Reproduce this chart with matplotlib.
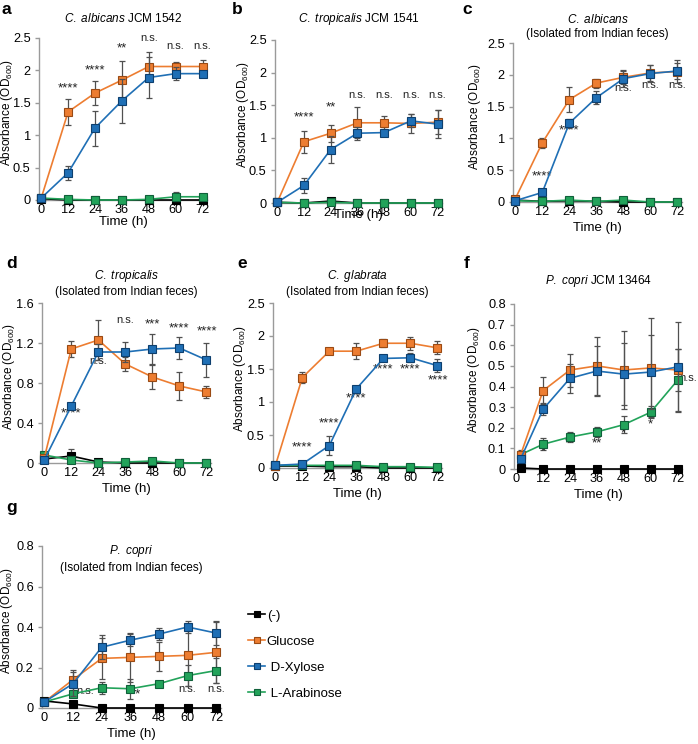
import numpy as np
import matplotlib
matplotlib.use("Agg")
import matplotlib.pyplot as plt
from matplotlib.ticker import FuncFormatter
from matplotlib.transforms import blended_transform_factory

plt.rcParams['font.family'] = ['Liberation Sans', 'DejaVu Sans']
plt.rcParams['mathtext.fontset'] = 'custom'
plt.rcParams['mathtext.rm'] = 'Liberation Sans'
plt.rcParams['mathtext.it'] = 'Liberation Sans:italic'
plt.rcParams['mathtext.default'] = 'regular'

# ---- data ----
hours = [0, 12, 24, 36, 48, 60, 72]
hours_f = [2, 12, 24, 36, 48, 60, 72]
series_names = ['(-)', 'Glucose', ' D-Xylose', ' L-Arabinose']

# panel a
a_neg = [0.02, 0.0, 0.0, 0.0, 0.0, 0.0, 0.0]
a_glc = [0.03, 1.36, 1.65, 1.85, 2.06, 2.06, 2.06]
a_glc_err = [0.01, 0.2, 0.18, 0.3, 0.22, 0.07, 0.1]
a_xyl = [0.03, 0.42, 1.11, 1.53, 1.89, 1.95, 1.95]
a_xyl_err = [0.01, 0.11, 0.27, 0.34, 0.32, 0.1, 0.03]
a_ara = [0.03, 0.01, 0.0, 0.0, 0.01, 0.05, 0.05]
a_ara_err = [0.0, 0.0, 0.0, 0.0, 0.0, 0.07, 0.0]
a_sig = ['', '****', '****', '**', 'n.s.', 'n.s.', 'n.s.']
a_sig_y = [0, 1.63, 1.9, 2.25, 2.42, 2.3, 2.3]

# panel b
b_neg = [0.01, 0.0, 0.03, 0.0, 0.0, 0.0, 0.0]
b_glc = [0.01, 0.94, 1.07, 1.23, 1.23, 1.22, 1.24]
b_glc_err = [0.0, 0.17, 0.13, 0.24, 0.1, 0.15, 0.18]
b_xyl = [0.01, 0.27, 0.82, 1.07, 1.08, 1.26, 1.21]
b_xyl_err = [0.0, 0.12, 0.2, 0.1, 0.02, 0.1, 0.22]
b_ara = [0.01, 0.0, 0.01, 0.0, 0.0, 0.0, 0.0]
b_ara_err = [0.0] * 7
b_sig = ['', '****', '**', 'n.s.', 'n.s.', 'n.s.', 'n.s.']
b_sig_y = [0, 1.22, 1.38, 1.58, 1.58, 1.58, 1.58]

# panel c
c_neg = [0.03, 0.01, 0.02, 0.01, 0.0, 0.0, 0.0]
c_glc = [0.05, 0.93, 1.61, 1.87, 1.96, 2.03, 2.05]
c_glc_err = [0.0, 0.08, 0.2, 0.07, 0.1, 0.12, 0.18]
c_xyl = [0.02, 0.15, 1.24, 1.64, 1.94, 2.02, 2.06]
c_xyl_err = [0.0, 0.02, 0.07, 0.1, 0.13, 0.14, 0.12]
c_ara = [0.02, 0.01, 0.03, 0.01, 0.03, 0.0, 0.0]
c_ara_err = [0.0] * 7
c_sig = ['', '****', '****', '*', 'n.s.', 'n.s.', 'n.s.']
c_sig_y = [0, 0.3, 1.03, 1.42, 1.72, 1.76, 1.76]

# panel d
d_neg = [0.04, 0.07, 0.01, 0.0, 0.0, 0.0, 0.0]
d_neg_err = [0.0, 0.07, 0.0, 0.0, 0.0, 0.0, 0.0]
d_glc = [0.05, 1.14, 1.23, 0.99, 0.86, 0.77, 0.71]
d_glc_err = [0.0, 0.08, 0.2, 0.07, 0.12, 0.14, 0.06]
d_xyl = [0.03, 0.57, 1.11, 1.11, 1.14, 1.15, 1.03]
d_xyl_err = [0.0, 0.02, 0.08, 0.1, 0.15, 0.11, 0.17]
d_ara = [0.08, 0.03, 0.0, 0.01, 0.02, 0.0, 0.0]
d_ara_err = [0.0] * 7
d_sig = ['', '****', 'n.s.', 'n.s.', '***', '****', '****']
d_sig_y = [0, 0.44, 0.97, 1.38, 1.33, 1.29, 1.26]

# panel e
e_neg = [0.03, 0.03, 0.02, 0.02, 0.0, 0.0, 0.0]
e_glc = [0.03, 1.37, 1.77, 1.77, 1.89, 1.89, 1.82]
e_glc_err = [0.0, 0.08, 0.04, 0.12, 0.06, 0.1, 0.1]
e_xyl = [0.04, 0.06, 0.34, 1.2, 1.66, 1.67, 1.55]
e_xyl_err = [0.0, 0.0, 0.15, 0.02, 0.03, 0.07, 0.1]
e_ara = [0.04, 0.04, 0.04, 0.04, 0.02, 0.02, 0.01]
e_ara_err = [0.0] * 7
e_sig = ['', '****', '****', '****', '****', '****', '****']
e_sig_y = [0, 0.22, 0.58, 0.97, 1.41, 1.41, 1.23]

# panel f
f_neg = [0.005, 0.0, 0.0, 0.0, 0.0, 0.0, 0.0]
f_glc = [0.07, 0.38, 0.48, 0.50, 0.48, 0.49, 0.48]
f_glc_err = [0.02, 0.065, 0.08, 0.14, 0.19, 0.24, 0.1]
f_xyl = [0.05, 0.29, 0.44, 0.475, 0.46, 0.47, 0.495]
f_xyl_err = [0.01, 0.03, 0.07, 0.12, 0.15, 0.18, 0.22]
f_ara = [0.07, 0.12, 0.155, 0.18, 0.215, 0.275, 0.43]
f_ara_err = [0.01, 0.03, 0.025, 0.025, 0.04, 0.03, 0.15]
f_sig = ['', '*', '**', '**', '*', '*', 'n.s.']
f_sig_y = [0, 0.055, 0.095, 0.095, 0.145, 0.185, 0.415]

# panel g
g_neg = [0.035, 0.02, 0.0, 0.0, 0.0, 0.0, 0.0]
g_glc = [0.03, 0.14, 0.245, 0.25, 0.255, 0.26, 0.275]
g_glc_err = [0.0, 0.05, 0.1, 0.12, 0.07, 0.15, 0.15]
g_xyl = [0.03, 0.12, 0.30, 0.335, 0.365, 0.40, 0.37]
g_xyl_err = [0.0, 0.06, 0.06, 0.03, 0.03, 0.03, 0.06]
g_ara = [0.03, 0.07, 0.10, 0.095, 0.12, 0.16, 0.185]
g_ara_err = [0.0, 0.0, 0.03, 0.05, 0.0, 0.05, 0.06]
g_sig = ['n.s.', '**', '**', '**', 'n.s.', 'n.s.']
g_sig_x = [17, 24.5, 38.5, 48, 60, 72]
g_sig_y = [0.06, 0.045, 0.035, 0.065, 0.07, 0.07]

# ---- styling ----
col_neg = ('#000000', '#000000', '#000000')
col_glc = ('#ED7D31', '#ED7D31', '#9A4A14')
col_xyl = ('#1F6FB5', '#1F6FB5', '#0D3F6E')
col_ara = ('#22A35A', '#22A35A', '#10603A')
W, H = 698, 744

fig = plt.figure(figsize=(6.98, 7.44), dpi=100)


def add_ax(l, r, t, b):
    return fig.add_axes([l / W, 1 - b / H, (r - l) / W, (b - t) / H])


def draw_series(ax, x, y, err, cols, z):
    line, face, edge = cols
    if err is not None:
        ax.errorbar(x, y, yerr=err, fmt='none', ecolor='#505050', elinewidth=0.9,
                    capsize=2.2, capthick=0.9, zorder=z - 1, clip_on=False)
    ax.plot(x, y, color=line, lw=1.2, marker='s', ms=5.2, mfc=face, mec=edge,
            mew=0.8, zorder=z, clip_on=False)


def setup(ax, ymax, ystep, title, letter, letter_xy, ylab_px, title_y=1.06, xlab_pad=1):
    ax.set_xlim(-1, 74)
    ax.set_ylim(0, ymax)
    ax.set_xticks(hours)
    ax.set_yticks(np.arange(0, ymax + ystep / 2, ystep))
    ax.yaxis.set_major_formatter(FuncFormatter(lambda v, p: '%g' % round(v, 2)))
    for s in ['top', 'right']:
        ax.spines[s].set_visible(False)
    for s in ['left', 'bottom']:
        ax.spines[s].set_color('#9a9a9a')
        ax.spines[s].set_linewidth(1.0)
    ax.spines['bottom'].set_zorder(0)
    ax.tick_params(axis='both', labelsize=9.2, color='#9a9a9a', length=3, width=1, pad=3)
    ax.tick_params(axis='x', length=0)
    ax.set_ylabel('Absorbance (OD$_{600}$)', fontsize=8.5, va='center')
    ax.yaxis.set_label_coords(ylab_px / W, 0.54,
                              transform=blended_transform_factory(fig.transFigure, ax.transAxes))
    ax.set_xlabel('Time (h)', fontsize=9.5, labelpad=xlab_pad)
    ax.text(0.5, title_y, title, transform=ax.transAxes, ha='center', va='bottom',
            fontsize=8.5, linespacing=1.25)
    fig.text(letter_xy[0] / W, 1 - letter_xy[1] / H, letter, fontsize=12.5,
             fontweight='bold', ha='left', va='top')


def panel(ax, x, neg, glc, ge, xyl, xe, ara, ae, neg_err=None):
    draw_series(ax, x, neg, neg_err, col_neg, 3)
    draw_series(ax, x, glc, ge, col_glc, 5)
    draw_series(ax, x, xyl, xe, col_xyl, 6)
    draw_series(ax, x, ara, ae, col_ara, 4)


def sig(ax, xs, labels, ys, dx=0):
    for xv, lab, yv in zip(xs, labels, ys):
        if lab:
            ax.text(xv + dx, yv, lab, ha='center', va='bottom',
                    fontsize=9.5 if '*' in lab else 8, color='#222222')


# a
ax = add_ax(39, 207, 38, 200)
panel(ax, hours, a_neg, a_glc, a_glc_err, a_xyl, a_xyl_err, a_ara, a_ara_err)
setup(ax, 2.5, 0.5, '$\\it{C.\\ albicans}$ JCM 1542', 'a', (2, 2), 7, title_y=1.08, xlab_pad=0)
sig(ax, hours, a_sig, a_sig_y)

# b
ax = add_ax(275, 442, 40, 203)
panel(ax, hours, b_neg, b_glc, b_glc_err, b_xyl, b_xyl_err, b_ara, b_ara_err)
setup(ax, 2.5, 0.5, '$\\it{C.\\ tropicalis}$ JCM 1541', 'b', (232, 2), 243, title_y=1.08, xlab_pad=-7)
sig(ax, hours, b_sig, b_sig_y)

# c
ax = add_ax(513, 682, 43, 202)
panel(ax, hours, c_neg, c_glc, c_glc_err, c_xyl, c_xyl_err, c_ara, c_ara_err)
setup(ax, 2.5, 0.5, '$\\it{C.\\ albicans}$\n(Isolated from Indian feces)', 'c', (462, 2), 475,
      title_y=1.02, xlab_pad=3)
sig(ax, hours, c_sig, c_sig_y)

# d
ax = add_ax(42, 211, 303, 463)
panel(ax, hours, d_neg, d_glc, d_glc_err, d_xyl, d_xyl_err, d_ara, d_ara_err, neg_err=d_neg_err)
setup(ax, 1.6, 0.4, '$\\it{C.\\ tropicalis}$\n(Isolated from Indian feces)', 'd', (6, 256), 9,
      title_y=1.03, xlab_pad=3)
sig(ax, hours, d_sig, d_sig_y)

# e
ax = add_ax(273, 442, 303, 468)
panel(ax, hours, e_neg, e_glc, e_glc_err, e_xyl, e_xyl_err, e_ara, e_ara_err)
setup(ax, 2.5, 0.5, '$\\it{C.\\ glabrata}$\n(Isolated from Indian feces)', 'e', (237, 256), 240,
      title_y=1.03, xlab_pad=3)
sig(ax, hours, e_sig, e_sig_y)

# f
ax = add_ax(514, 682, 304, 469)
panel(ax, hours_f, f_neg, f_glc, f_glc_err, f_xyl, f_xyl_err, f_ara, f_ara_err)
setup(ax, 0.8, 0.1, '$\\it{P.\\ copri}$ JCM 13464', 'f', (464, 256), 474, title_y=1.09, xlab_pad=3)
sig(ax, hours_f[:-1], f_sig[:-1], f_sig_y[:-1])
ax.text(72.6, f_sig_y[-1], f_sig[-1], ha='left', va='bottom', fontsize=8, color='#222222')

# g
ax = add_ax(42, 221, 546, 708)
panel(ax, hours, g_neg, g_glc, g_glc_err, g_xyl, g_xyl_err, g_ara, g_ara_err)
setup(ax, 0.8, 0.2, '$\\it{P.\\ copri}$\n(Isolated from Indian feces)', 'g', (6, 500), 7,
      title_y=0.83, xlab_pad=3)
sig(ax, g_sig_x, g_sig, g_sig_y)

# legend
handles = []
for name, cols in zip(series_names, [col_neg, col_glc, col_xyl, col_ara]):
    h, = ax.plot([], [], color=cols[0], lw=1.2, marker='s', ms=4.5, mfc=cols[1], mec=cols[2], mew=0.8)
    handles.append(h)
fig.legend(handles, series_names, loc='upper left', bbox_to_anchor=(243 / W, 1 - 604 / H),
           frameon=False, fontsize=9.5, handlelength=1.3, handletextpad=0.1,
           labelspacing=1.05, borderaxespad=0)

fig.savefig('out.png', dpi=100)
